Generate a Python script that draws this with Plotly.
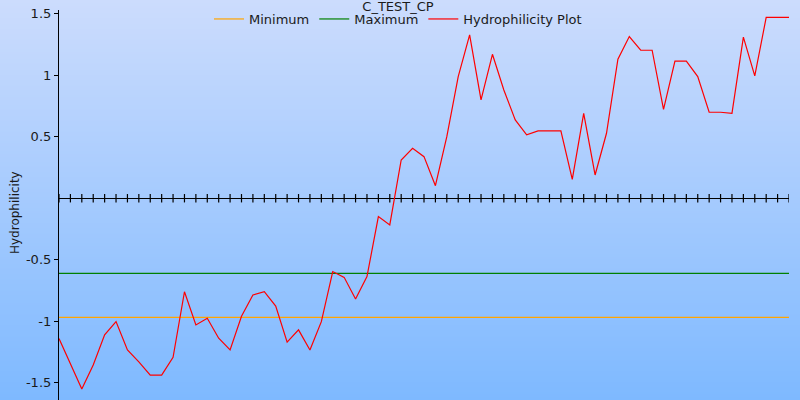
import base64
import struct
import zlib

import plotly.graph_objects as go

# ---------------- data ----------------
positions = list(range(65))
hydrophilicity = [
    -1.14, -1.34, -1.55, -1.355, -1.11, -1.003, -1.233, -1.33, -1.437, -1.437,
    -1.293, -0.76, -1.03, -0.976, -1.138, -1.233, -0.96, -0.786, -0.76, -0.876,
    -1.17, -1.07, -1.233, -1.003, -0.596, -0.643, -0.819, -0.637, -0.149, -0.217,
    0.311, 0.406, 0.338, 0.102, 0.5, 0.989, 1.328, 0.8, 1.17, 0.88,
    0.637, 0.515, 0.547, 0.547, 0.547, 0.154, 0.69, 0.189, 0.528, 1.13,
    1.314, 1.203, 1.203, 0.723, 1.114, 1.114, 0.989, 0.699, 0.699, 0.69,
    1.309, 0.994, 1.47, 1.47, 1.47,
]
minimum_value = -0.968
maximum_value = -0.611
y_tick_values = [-1.5, -1, -0.5, 0.5, 1, 1.5]
y_tick_labels = ["-1.5", "-1", "-0.5", "0.5", "1", "1.5"]
chart_title = "C_TEST_CP"
y_title = "Hydrophilicity"

# ---------------- background gradient image ----------------
def gradient_png(top, bottom, height=400):
    rows = b""
    for r in range(height):
        t = r / (height - 1)
        c = [round(top[k] + (bottom[k] - top[k]) * t) for k in range(3)]
        rows += b"\x00" + bytes(c)
    def chunk(tag, data):
        return (struct.pack(">I", len(data)) + tag + data +
                struct.pack(">I", zlib.crc32(tag + data) & 0xFFFFFFFF))
    png = b"\x89PNG\r\n\x1a\n"
    png += chunk(b"IHDR", struct.pack(">IIBBBBB", 1, height, 8, 2, 0, 0, 0))
    png += chunk(b"IDAT", zlib.compress(rows))
    png += chunk(b"IEND", b"")
    return "data:image/png;base64," + base64.b64encode(png).decode()

bg = gradient_png((204, 220, 253), (126, 185, 255))

W, H = 800, 400
ML, MR, MT, MB = 59, 11, 10, 0
pw, ph = W - ML - MR, H - MT - MB

font_family = "DejaVu Sans"

fig = go.Figure()

fig.add_trace(go.Scatter(
    x=positions, y=[minimum_value] * len(positions), mode="lines",
    name="Minimum", line=dict(color="#ffa500", width=1.2), hoverinfo="skip"))
fig.add_trace(go.Scatter(
    x=positions, y=[maximum_value] * len(positions), mode="lines",
    name="Maximum", line=dict(color="#008000", width=1.2), hoverinfo="skip"))
fig.add_trace(go.Scatter(
    x=positions, y=hydrophilicity, mode="lines",
    name="Hydrophilicity Plot", line=dict(color="#ff0000", width=1.2)))
# x-axis tick marks drawn on the zero line
fig.add_trace(go.Scatter(
    x=positions, y=[0] * len(positions), mode="markers", showlegend=False,
    marker=dict(symbol="line-ns", size=6, line=dict(color="black", width=1.2)),
    hoverinfo="skip"))

fig.update_layout(
    width=W, height=H,
    margin=dict(l=ML, r=MR, t=MT, b=MB, autoexpand=False),
    paper_bgcolor="rgba(0,0,0,0)",
    plot_bgcolor="rgba(0,0,0,0)",
    font=dict(family=font_family, size=13, color="#1a1a1a"),
    title=dict(text=chart_title, x=398 / W, xref="container", xanchor="center",
               y=1 - 6 / H, yref="container", yanchor="middle", automargin=False,
               font=dict(size=13, color="#1a1a1a"), pad=dict(t=0, b=0)),
    legend=dict(orientation="h", x=(398 - ML) / pw, xref="paper", xanchor="center",
                y=(H - 19 - MB) / ph, yref="paper", yanchor="middle",
                bgcolor="rgba(0,0,0,0)", font=dict(size=13), itemwidth=30,
                tracegroupgap=0),
    showlegend=True,
    xaxis=dict(range=[0, 64], visible=False, showgrid=False, zeroline=False,
               automargin=False),
    yaxis=dict(range=[-1.64, 1.53], showgrid=False, zeroline=True,
               zerolinecolor="black", zerolinewidth=1.2, automargin=False,
               showline=True, linecolor="black", linewidth=1.2,
               ticks="outside", ticklen=4, tickcolor="black",
               tickvals=y_tick_values, ticktext=y_tick_labels,
               tickfont=dict(size=13, color="#1a1a1a")),
    images=[dict(source=bg, xref="paper", yref="paper",
                 x=-ML / pw, y=1 + MT / ph, sizex=W / pw, sizey=H / ph,
                 sizing="stretch", layer="below", xanchor="left", yanchor="top")],
    annotations=[dict(text=y_title, textangle=-90, xref="paper", yref="paper",
                      x=(15 - ML) / pw, y=(H - 213 - MB) / ph,
                      xanchor="center", yanchor="middle", showarrow=False,
                      font=dict(size=12, color="#1a1a1a"))],
)

fig.write_html("out.html",
               config={"displayModeBar": False},
               post_script="document.body.style.margin='0';"
                           "document.body.style.overflow='hidden';")
